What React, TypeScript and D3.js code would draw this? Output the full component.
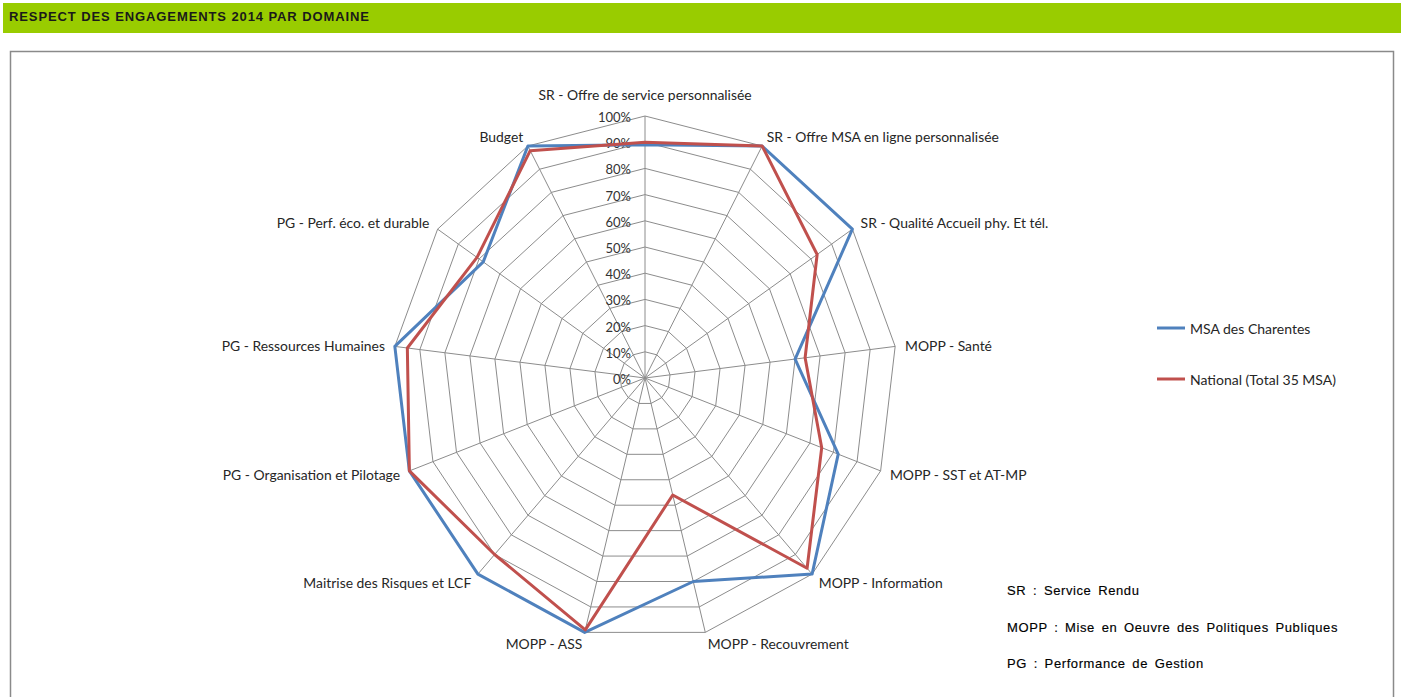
import React from 'react';
import * as d3 from 'd3';

// Domains of the 2014 commitments (clockwise from the top)
const categories: string[] = [
  'SR - Offre de service personnalisée',
  'SR - Offre MSA en ligne personnalisée',
  'SR - Qualité Accueil phy. Et tél.',
  'MOPP - Santé',
  'MOPP - SST et AT-MP',
  'MOPP - Information',
  'MOPP - Recouvrement',
  'MOPP - ASS',
  'Maitrise des Risques et LCF',
  'PG - Organisation et Pilotage',
  'PG - Ressources Humaines',
  'PG - Perf. éco. et durable',
  'Budget',
];

// Share of commitments met, per domain
const msaCharentes: number[] = [0.89, 1.0, 1.0, 0.6, 0.82, 1.0, 0.8, 1.0, 1.0, 1.0, 1.0, 0.78, 1.0];
const national: number[] = [0.9, 1.0, 0.83, 0.64, 0.75, 0.97, 0.46, 0.99, 0.9, 1.0, 0.95, 0.81, 0.98];

const seriesNames: string[] = ['MSA des Charentes', 'National (Total 35 MSA)'];
const seriesColors: string[] = ['#4F81BD', '#C0504D'];

const tickValues: number[] = [0, 0.1, 0.2, 0.3, 0.4, 0.5, 0.6, 0.7, 0.8, 0.9, 1.0];
const tickLabels: string[] = ['0%', '10%', '20%', '30%', '40%', '50%', '60%', '70%', '80%', '90%', '100%'];

const abbreviations: string[] = [
  'SR : Service Rendu',
  'MOPP : Mise en Oeuvre des Politiques Publiques',
  'PG : Performance de Gestion',
];

const title = 'RESPECT DES ENGAGEMENTS 2014 PAR DOMAINE';

const W = 1405;
const H = 697;
const cx = 645;
const cy = 378;
const rx = 252;
const ry = 262;

const labelFont = 'Lato, "Open Sans", sans-serif';
const gridColor = '#8c8c8c';

export default function App() {
  const xScale = d3.scaleLinear().domain([-1, 1]).range([cx - rx, cx + rx]);
  const yScale = d3.scaleLinear().domain([-1, 1]).range([cy + ry, cy - ry]);
  const angle = d3.scaleLinear().domain([0, categories.length]).range([0, 2 * Math.PI]);

  const pt = (i: number, v: number): [number, number] => {
    const a = angle(i);
    return [xScale(v * Math.sin(a)), yScale(v * Math.cos(a))];
  };

  const closed = d3.line<[number, number]>().curve(d3.curveLinearClosed);

  const ring = (v: number) => closed(categories.map((_, i) => pt(i, v))) as string;
  const seriesPath = (vals: number[]) => closed(vals.map((v, i) => pt(i, v))) as string;

  const series = [msaCharentes, national];

  return (
    <svg
      width={W}
      height={H}
      style={{ position: 'absolute', left: 0, top: 0, background: '#fff' }}
      xmlns="http://www.w3.org/2000/svg"
    >
      {/* title banner */}
      <rect x={3} y={3} width={1398} height={30} fill="#99CC00" />
      <text
        x={9}
        y={21}
        fontFamily='"Liberation Sans", Arial, sans-serif'
        fontWeight="bold"
        fontSize={13}
        fill="#1a1a1a"
        letterSpacing={0.9}
      >
        {title}
      </text>

      {/* chart frame */}
      <rect x={10.5} y={51.5} width={1383} height={700} fill="none" stroke="#8a8a8a" strokeWidth={1.5} />

      {/* grid rings */}
      {tickValues.slice(1).map((v) => (
        <path key={`ring-${v}`} d={ring(v)} fill="none" stroke={gridColor} strokeWidth={1} />
      ))}
      {/* spokes */}
      {categories.map((c, i) => {
        const [x, y] = pt(i, 1);
        return <line key={`spoke-${c}`} x1={xScale(0)} y1={yScale(0)} x2={x} y2={y} stroke={gridColor} strokeWidth={1} />;
      })}

      {/* radial tick labels */}
      {tickValues.map((v, k) => (
        <text
          key={`tick-${v}`}
          x={xScale(0) - 14}
          y={yScale(v) + 1}
          textAnchor="end"
          dominantBaseline="central"
          fontFamily={labelFont}
          fontSize={13}
          fill="#333"
        >
          {tickLabels[k]}
        </text>
      ))}

      {/* series */}
      {series.map((vals, s) => (
        <path
          key={`series-${s}`}
          d={seriesPath(vals)}
          fill="none"
          stroke={seriesColors[s]}
          strokeWidth={3}
          strokeLinejoin="round"
        />
      ))}

      {/* category labels */}
      {categories.map((c, i) => {
        const a = angle(i);
        const [vx, vy] = pt(i, 1);
        const s = Math.sin(a);
        const anchor = s > 0.01 ? 'start' : s < -0.01 ? 'end' : 'middle';
        const lx = vx + 10 * s;
        const ly = i === 0 ? vy - 22 : vy - 11 * Math.cos(a);
        return (
          <text
            key={`cat-${c}`}
            x={lx}
            y={ly}
            textAnchor={anchor}
            dominantBaseline="central"
            fontFamily={labelFont}
            fontSize={13.9}
            fill="#262626"
          >
            {c}
          </text>
        );
      })}

      {/* legend */}
      {seriesNames.map((n, s) => {
        const y = 328 + s * 51;
        return (
          <g key={`legend-${n}`}>
            <line x1={1157} x2={1185} y1={y} y2={y} stroke={seriesColors[s]} strokeWidth={3} />
            <text x={1190} y={y} dominantBaseline="central" fontFamily={labelFont} fontSize={14} fill="#262626">
              {n}
            </text>
          </g>
        );
      })}

      {/* abbreviation notes */}
      {abbreviations.map((t, k) => (
        <text
          key={`abbr-${k}`}
          x={1007}
          y={595 + k * 36.5}
          fontFamily='"Liberation Sans", Arial, sans-serif'
          fontSize={13}
          letterSpacing={0.6}
          wordSpacing={2.5}
          fill="#000"
          stroke="#000"
          strokeWidth={0.15}
        >
          {t}
        </text>
      ))}
    </svg>
  );
}
